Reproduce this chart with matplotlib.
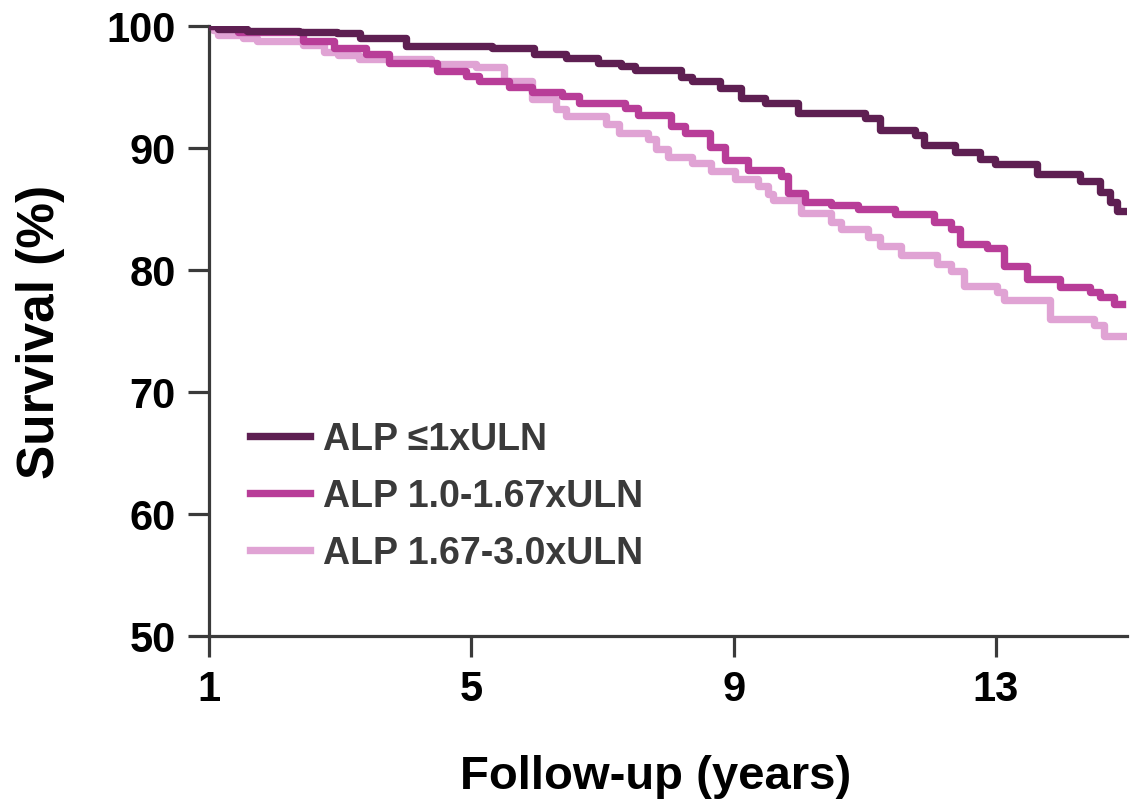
import matplotlib
matplotlib.use("Agg")
import matplotlib.pyplot as plt

plt.rcParams['font.family'] = ['Liberation Sans', 'DejaVu Sans']

# Kaplan-Meier steps (years, survival %)
dark_x = [1.0, 1.14, 1.58, 2.38, 2.95, 3.3, 4.0, 5.32, 5.95, 6.44, 6.94, 7.29, 7.5,
          8.2, 8.36, 8.8, 9.12, 9.48, 9.98, 11.0, 11.24, 11.76, 11.91, 12.37, 12.76,
          12.98, 13.63, 14.28, 14.59, 14.74, 14.85, 15.0]
dark_y = [100, 99.75, 99.6, 99.5, 99.4, 99.0, 98.4, 98.2, 97.7, 97.35, 97.0, 96.7, 96.4,
          95.8, 95.5, 94.9, 94.1, 93.7, 92.9, 92.5, 91.5, 91.1, 90.25, 89.65, 89.1,
          88.7, 87.9, 87.3, 86.4, 85.6, 84.8, 84.8]

mid_x = [1.0, 1.44, 2.43, 2.91, 3.4, 3.75, 4.47, 4.92, 5.12, 5.57, 5.92, 6.38, 6.64,
         7.35, 7.55, 8.05, 8.26, 8.64, 8.87, 9.22, 9.72, 9.83, 10.09, 10.48, 10.89,
         11.46, 12.06, 12.31, 12.46, 12.87, 13.13, 13.48, 13.98, 14.43, 14.59, 14.8, 14.92]
mid_y = [100, 99.5, 98.8, 98.2, 97.7, 97.0, 96.3, 95.9, 95.5, 95.0, 94.6, 94.3, 93.7,
         93.3, 92.7, 91.8, 91.2, 90.1, 89.0, 88.2, 87.7, 86.3, 85.6, 85.35, 85.0,
         84.6, 83.9, 83.4, 82.1, 81.8, 80.35, 79.3, 78.6, 78.2, 77.8, 77.2, 77.2]

light_x = [1.0, 1.06, 1.14, 1.52, 1.73, 2.43, 2.76, 2.96, 3.29, 4.39, 5.07, 5.5, 5.92,
           6.29, 6.44, 7.05, 7.25, 7.7, 7.81, 8.0, 8.36, 8.66, 9.02, 9.37, 9.53, 9.6,
           10.03, 10.48, 10.64, 11.05, 11.24, 11.55, 12.11, 12.31, 12.52, 13.02, 13.13,
           13.83, 14.5, 14.65, 14.98]
light_y = [100, 99.7, 99.3, 99.0, 98.8, 98.45, 97.85, 97.6, 97.3, 96.9, 96.6, 95.5, 94.0,
           93.2, 92.65, 92.0, 91.2, 90.7, 89.9, 89.3, 88.8, 88.1, 87.5, 86.9, 86.2, 85.7,
           84.7, 83.9, 83.4, 82.7, 82.0, 81.2, 80.5, 79.9, 78.7, 78.2, 77.5,
           76.0, 75.5, 74.6, 74.6]

labels = ['ALP \u22641xULN', 'ALP 1.0-1.67xULN', 'ALP 1.67-3.0xULN']
colors = ['#5e1f52', '#b83d98', '#e0a3d4']
xticks = [1, 5, 9, 13]
yticks = [50, 60, 70, 80, 90, 100]

fig = plt.figure(figsize=(11.32, 8.04), dpi=100)
ax = fig.add_axes([209/1132, 167/804, 918/1132, 610/804])

# light first so the darker curves sit on top
l3, = ax.step(light_x, light_y, where='post', color=colors[2], lw=5.3, zorder=2)
l2, = ax.step(mid_x, mid_y, where='post', color=colors[1], lw=5.3, zorder=3)
l1, = ax.step(dark_x, dark_y, where='post', color=colors[0], lw=5.3, zorder=4)

ax.set_xlim(1, 15)
ax.set_ylim(50, 100)
ax.set_xticks(xticks)
ax.set_yticks(yticks)

for s in ['top', 'right']:
    ax.spines[s].set_visible(False)
for s in ['left', 'bottom']:
    ax.spines[s].set_linewidth(2.3)
    ax.spines[s].set_color('#3a3a3a')
ax.tick_params(length=15, width=2.3, color='#3a3a3a', pad=9,
               labelsize=30)
for t in ax.get_xticklabels() + ax.get_yticklabels():
    t.set_fontweight('bold')

ax.set_xlabel('Follow-up (years)', fontsize=34, fontweight='bold')
ax.xaxis.set_label_coords(0.486, -0.193)
ax.set_ylabel('Survival (%)', fontsize=37, fontweight='bold', labelpad=30)

leg = ax.legend([l1, l2, l3], labels, loc='upper left', bbox_to_anchor=(0.045, 0.352),
                frameon=False, fontsize=27, handlelength=1.6, handletextpad=0.35,
                labelspacing=0.56, borderpad=0, borderaxespad=0)
for t in leg.get_texts():
    t.set_fontweight('bold')
    t.set_color('#3a3a3a')

fig.savefig('out.png', dpi=100)
